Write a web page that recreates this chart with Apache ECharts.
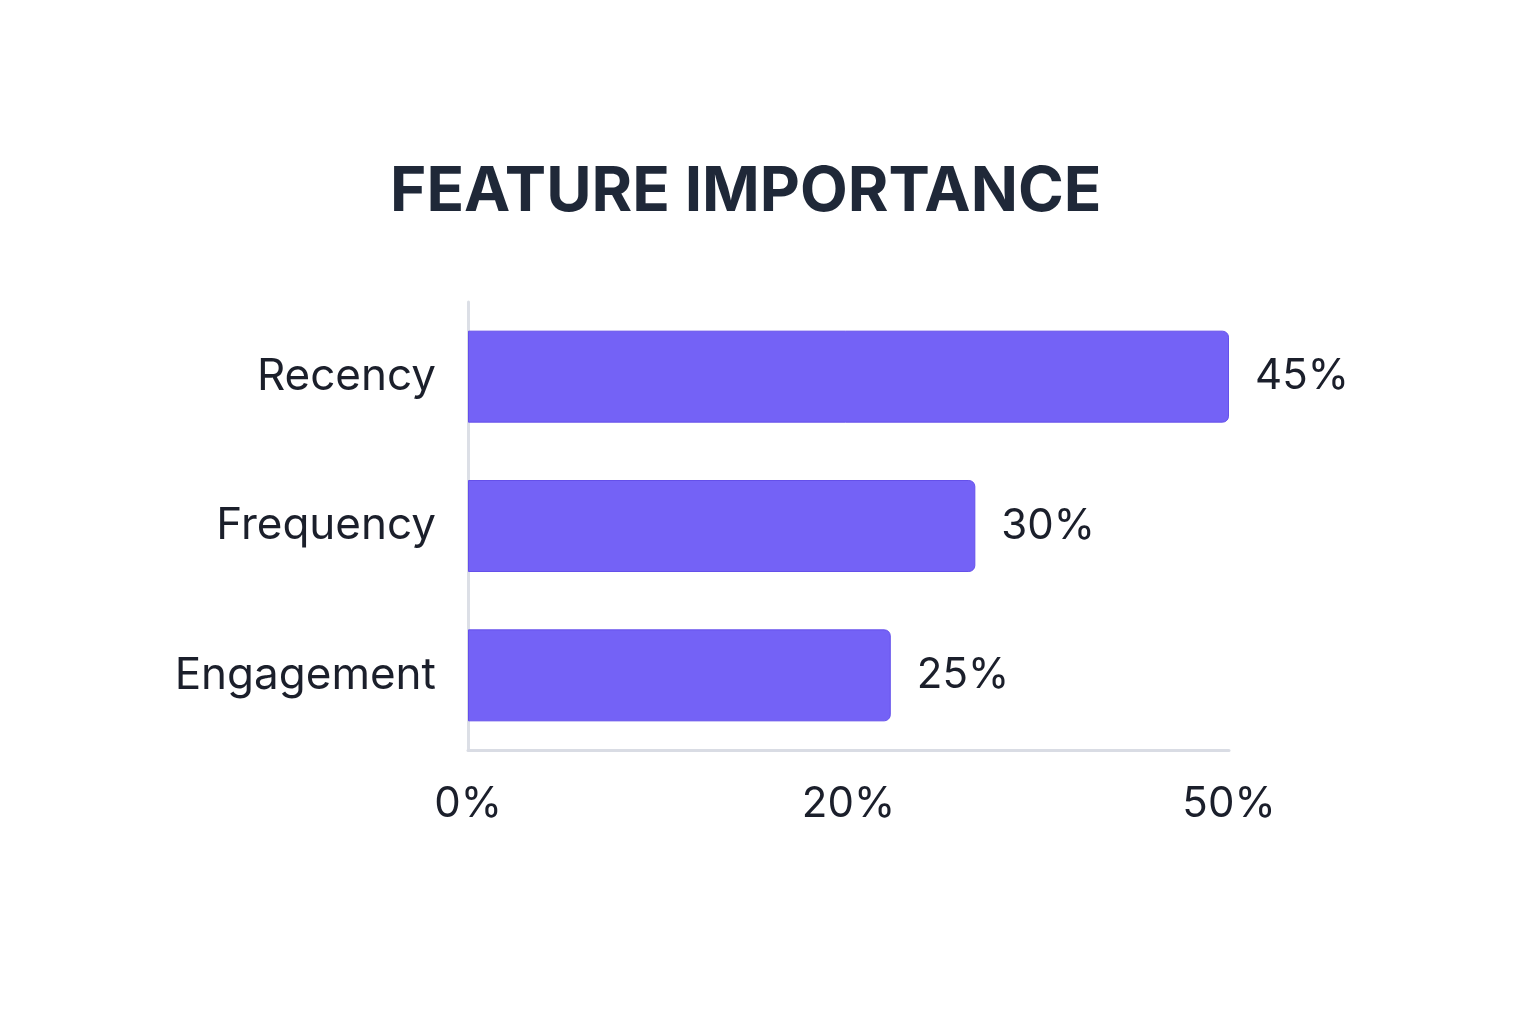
<!DOCTYPE html>
<html>
<head>
<meta charset="utf-8">
<title>Feature Importance</title>
<script src="https://cdn.jsdelivr.net/npm/echarts@6/dist/echarts.min.js"></script>
<style>
  html, body { margin: 0; padding: 0; background: #ffffff; }
  #chart { width: 1536px; height: 1024px; }
</style>
</head>
<body>
<div id="chart"></div>
<script>
// Chart data
const features = ['Recency', 'Frequency', 'Engagement'];
const importance = [45, 30, 25];
const tickLabels = ['0%', '20%', '50%'];

const chart = echarts.init(document.getElementById('chart'));

const option = {
    backgroundColor: '#ffffff',
    animation: false,
    title: {
        text: 'FEATURE IMPORTANCE',
        left: 385,
        top: 156,
        textStyle: {
            fontFamily: 'Inter',
            fontWeight: 700,
            fontSize: 62,
            color: '#1f2838'
        }
    },
    grid: {
        left: 468,
        right: 307,
        top: 302,
        bottom: 274,
        containLabel: false
    },
    xAxis: {
        type: 'value',
        min: 0,
        max: 45,
        interval: 22.5,
        axisLine: { show: true, lineStyle: { color: '#d9dce4', width: 3 } },
        axisTick: { show: false },
        splitLine: { show: false },
        axisLabel: {
            margin: 33,
            fontFamily: 'Inter',
            fontSize: 42,
            color: '#1b1f2b',
            formatter: (value, index) => tickLabels[index]
        }
    },
    yAxis: {
        type: 'category',
        data: features,
        inverse: true,
        axisLine: { show: true, lineStyle: { color: '#dcdfe6', width: 3 } },
        axisTick: { show: false },
        splitLine: { show: false },
        axisLabel: {
            margin: 32,
            fontFamily: 'Inter',
            fontSize: 44,
            color: '#1b1f2b'
        }
    },
    series: [{
        type: 'bar',
        data: importance,
        barWidth: 92,
        itemStyle: {
            color: '#7462f6',
            borderColor: '#6450ea',
            borderWidth: 1,
            borderRadius: [0, 6, 6, 0]
        },
        label: {
            show: true,
            position: 'right',
            distance: 26,
            fontFamily: 'Inter',
            fontSize: 42,
            color: '#1b1f2b',
            formatter: (p) => p.value + '%'
        }
    }]
};

chart.setOption(option);
window.addEventListener('resize', () => chart.resize());
</script>
</body>
</html>
